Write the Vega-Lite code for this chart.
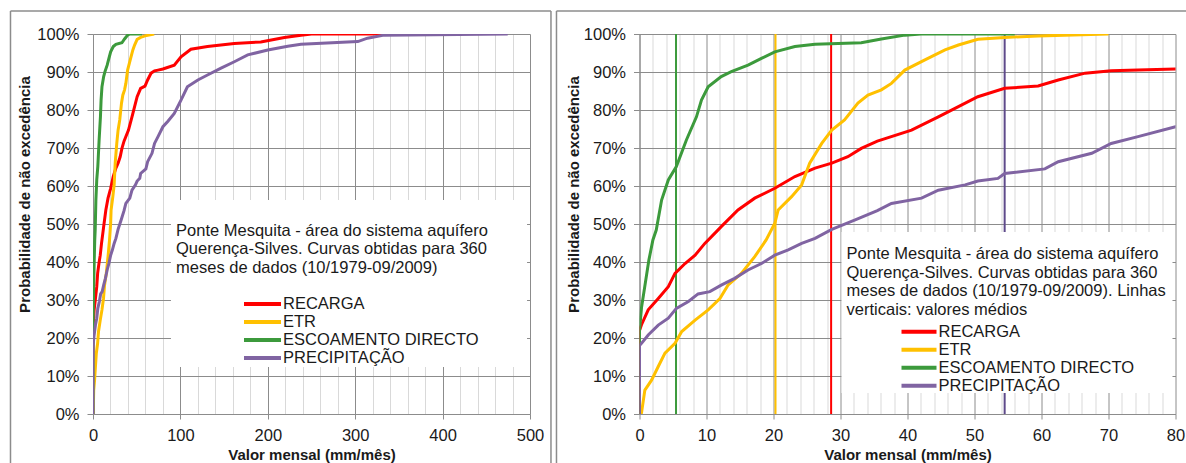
{
  "$schema": "https://vega.github.io/schema/vega-lite/v6.json",
  "background": "white",
  "padding": {"left": 9, "top": 10, "right": 0, "bottom": 0},
  "spacing": 3.5,
  "config": {
    "view": {"stroke": null},
    "font": "Liberation Sans",
    "axis": {
      "labelFont": "Liberation Sans", "labelFontSize": 16.5, "labelColor": "#1a1a1a",
      "titleFont": "Liberation Sans", "titleFontSize": 15, "titleFontWeight": "bold", "titleColor": "#1a1a1a",
      "domainColor": "#8c8c8c", "tickColor": "#8c8c8c", "gridColor": "#8c8c8c", "gridWidth": 1, "gridOpacity": 1,
      "labelOverlap": false, "labelBound": false, "labelFlush": false, "tickCount": 100
    },
    "axisX": {"tickSize": 5, "labelPadding": 8, "titlePadding": 4},
    "axisY": {"tickSize": 6, "labelPadding": 8}
  },
  "datasets": {
    "curves": [
      {"serie": "RECARGA", "valor": 0, "prob": 0},
      {"serie": "RECARGA", "valor": 0, "prob": 0.22},
      {"serie": "RECARGA", "valor": 0.3, "prob": 0.235},
      {"serie": "RECARGA", "valor": 1.3, "prob": 0.274},
      {"serie": "RECARGA", "valor": 2.8, "prob": 0.304},
      {"serie": "RECARGA", "valor": 4.3, "prob": 0.335},
      {"serie": "RECARGA", "valor": 5.3, "prob": 0.37},
      {"serie": "RECARGA", "valor": 6.8, "prob": 0.396},
      {"serie": "RECARGA", "valor": 8.3, "prob": 0.418},
      {"serie": "RECARGA", "valor": 9.75, "prob": 0.449},
      {"serie": "RECARGA", "valor": 11.7, "prob": 0.484},
      {"serie": "RECARGA", "valor": 12.2, "prob": 0.493},
      {"serie": "RECARGA", "valor": 14.7, "prob": 0.537},
      {"serie": "RECARGA", "valor": 17.2, "prob": 0.568},
      {"serie": "RECARGA", "valor": 20.2, "prob": 0.594},
      {"serie": "RECARGA", "valor": 23.2, "prob": 0.625},
      {"serie": "RECARGA", "valor": 26.2, "prob": 0.647},
      {"serie": "RECARGA", "valor": 28.7, "prob": 0.66},
      {"serie": "RECARGA", "valor": 31.1, "prob": 0.677},
      {"serie": "RECARGA", "valor": 33.1, "prob": 0.699},
      {"serie": "RECARGA", "valor": 35.5, "prob": 0.718},
      {"serie": "RECARGA", "valor": 40.6, "prob": 0.747},
      {"serie": "RECARGA", "valor": 44.6, "prob": 0.782},
      {"serie": "RECARGA", "valor": 47.6, "prob": 0.809},
      {"serie": "RECARGA", "valor": 50.5, "prob": 0.835},
      {"serie": "RECARGA", "valor": 54.5, "prob": 0.857},
      {"serie": "RECARGA", "valor": 59.5, "prob": 0.863},
      {"serie": "RECARGA", "valor": 62.5, "prob": 0.879},
      {"serie": "RECARGA", "valor": 66.5, "prob": 0.897},
      {"serie": "RECARGA", "valor": 70.4, "prob": 0.903},
      {"serie": "RECARGA", "valor": 74.4, "prob": 0.905},
      {"serie": "RECARGA", "valor": 80, "prob": 0.908},
      {"serie": "RECARGA", "valor": 93, "prob": 0.918},
      {"serie": "RECARGA", "valor": 100.7, "prob": 0.94},
      {"serie": "RECARGA", "valor": 112, "prob": 0.96},
      {"serie": "RECARGA", "valor": 131, "prob": 0.967},
      {"serie": "RECARGA", "valor": 161.7, "prob": 0.975},
      {"serie": "RECARGA", "valor": 192, "prob": 0.979},
      {"serie": "RECARGA", "valor": 219, "prob": 0.991},
      {"serie": "RECARGA", "valor": 238, "prob": 0.997},
      {"serie": "RECARGA", "valor": 250, "prob": 1.0},
      {"serie": "RECARGA", "valor": 340, "prob": 1.0},
      {"serie": "ETR", "valor": 0, "prob": 0},
      {"serie": "ETR", "valor": 0.3, "prob": 0.003},
      {"serie": "ETR", "valor": 0.8, "prob": 0.063},
      {"serie": "ETR", "valor": 1.8, "prob": 0.089},
      {"serie": "ETR", "valor": 2.8, "prob": 0.125},
      {"serie": "ETR", "valor": 3.8, "prob": 0.16},
      {"serie": "ETR", "valor": 5.3, "prob": 0.186},
      {"serie": "ETR", "valor": 6.3, "prob": 0.217},
      {"serie": "ETR", "valor": 8.3, "prob": 0.247},
      {"serie": "ETR", "valor": 10.25, "prob": 0.274},
      {"serie": "ETR", "valor": 12.0, "prob": 0.304},
      {"serie": "ETR", "valor": 13.2, "prob": 0.339},
      {"serie": "ETR", "valor": 15.2, "prob": 0.37},
      {"serie": "ETR", "valor": 17.2, "prob": 0.414},
      {"serie": "ETR", "valor": 18.9, "prob": 0.458},
      {"serie": "ETR", "valor": 20.2, "prob": 0.502},
      {"serie": "ETR", "valor": 20.7, "prob": 0.537},
      {"serie": "ETR", "valor": 22.7, "prob": 0.572},
      {"serie": "ETR", "valor": 24.2, "prob": 0.603},
      {"serie": "ETR", "valor": 25.4, "prob": 0.66},
      {"serie": "ETR", "valor": 27.2, "prob": 0.712},
      {"serie": "ETR", "valor": 28.7, "prob": 0.747},
      {"serie": "ETR", "valor": 30.6, "prob": 0.774},
      {"serie": "ETR", "valor": 32.6, "prob": 0.818},
      {"serie": "ETR", "valor": 34.1, "prob": 0.839},
      {"serie": "ETR", "valor": 36.1, "prob": 0.853},
      {"serie": "ETR", "valor": 37.6, "prob": 0.87},
      {"serie": "ETR", "valor": 39.6, "prob": 0.905},
      {"serie": "ETR", "valor": 42.6, "prob": 0.932},
      {"serie": "ETR", "valor": 45.6, "prob": 0.958},
      {"serie": "ETR", "valor": 47.6, "prob": 0.971},
      {"serie": "ETR", "valor": 50.5, "prob": 0.986},
      {"serie": "ETR", "valor": 54.5, "prob": 0.991},
      {"serie": "ETR", "valor": 59.5, "prob": 0.995},
      {"serie": "ETR", "valor": 70, "prob": 1.0},
      {"serie": "ESCOAMENTO DIRECTO", "valor": 0, "prob": 0},
      {"serie": "ESCOAMENTO DIRECTO", "valor": 0, "prob": 0.22},
      {"serie": "ESCOAMENTO DIRECTO", "valor": 0.3, "prob": 0.28},
      {"serie": "ESCOAMENTO DIRECTO", "valor": 1.4, "prob": 0.405},
      {"serie": "ESCOAMENTO DIRECTO", "valor": 2.0, "prob": 0.458},
      {"serie": "ESCOAMENTO DIRECTO", "valor": 2.5, "prob": 0.484},
      {"serie": "ESCOAMENTO DIRECTO", "valor": 3.3, "prob": 0.563},
      {"serie": "ESCOAMENTO DIRECTO", "valor": 4.3, "prob": 0.616},
      {"serie": "ESCOAMENTO DIRECTO", "valor": 5.5, "prob": 0.651},
      {"serie": "ESCOAMENTO DIRECTO", "valor": 7.0, "prob": 0.721},
      {"serie": "ESCOAMENTO DIRECTO", "valor": 8.5, "prob": 0.782},
      {"serie": "ESCOAMENTO DIRECTO", "valor": 9.25, "prob": 0.826},
      {"serie": "ESCOAMENTO DIRECTO", "valor": 10.25, "prob": 0.861},
      {"serie": "ESCOAMENTO DIRECTO", "valor": 12.2, "prob": 0.888},
      {"serie": "ESCOAMENTO DIRECTO", "valor": 13.7, "prob": 0.901},
      {"serie": "ESCOAMENTO DIRECTO", "valor": 16.2, "prob": 0.918},
      {"serie": "ESCOAMENTO DIRECTO", "valor": 18.2, "prob": 0.936},
      {"serie": "ESCOAMENTO DIRECTO", "valor": 20.2, "prob": 0.953},
      {"serie": "ESCOAMENTO DIRECTO", "valor": 23.2, "prob": 0.967},
      {"serie": "ESCOAMENTO DIRECTO", "valor": 26.2, "prob": 0.973},
      {"serie": "ESCOAMENTO DIRECTO", "valor": 33.1, "prob": 0.977},
      {"serie": "ESCOAMENTO DIRECTO", "valor": 36.1, "prob": 0.987},
      {"serie": "ESCOAMENTO DIRECTO", "valor": 39.6, "prob": 0.997},
      {"serie": "ESCOAMENTO DIRECTO", "valor": 42, "prob": 1.0},
      {"serie": "ESCOAMENTO DIRECTO", "valor": 56, "prob": 1.0},
      {"serie": "PRECIPITAÇÃO", "valor": 0, "prob": 0},
      {"serie": "PRECIPITAÇÃO", "valor": 0, "prob": 0.18},
      {"serie": "PRECIPITAÇÃO", "valor": 0.3, "prob": 0.186},
      {"serie": "PRECIPITAÇÃO", "valor": 1.3, "prob": 0.208},
      {"serie": "PRECIPITAÇÃO", "valor": 2.8, "prob": 0.234},
      {"serie": "PRECIPITAÇÃO", "valor": 4.3, "prob": 0.252},
      {"serie": "PRECIPITAÇÃO", "valor": 5.5, "prob": 0.278},
      {"serie": "PRECIPITAÇÃO", "valor": 7.3, "prob": 0.296},
      {"serie": "PRECIPITAÇÃO", "valor": 8.75, "prob": 0.316},
      {"serie": "PRECIPITAÇÃO", "valor": 10.5, "prob": 0.322},
      {"serie": "PRECIPITAÇÃO", "valor": 12.2, "prob": 0.339},
      {"serie": "PRECIPITAÇÃO", "valor": 14.2, "prob": 0.357},
      {"serie": "PRECIPITAÇÃO", "valor": 16.2, "prob": 0.379},
      {"serie": "PRECIPITAÇÃO", "valor": 18.2, "prob": 0.396},
      {"serie": "PRECIPITAÇÃO", "valor": 20.2, "prob": 0.418},
      {"serie": "PRECIPITAÇÃO", "valor": 22.2, "prob": 0.432},
      {"serie": "PRECIPITAÇÃO", "valor": 24.2, "prob": 0.449},
      {"serie": "PRECIPITAÇÃO", "valor": 26.2, "prob": 0.462},
      {"serie": "PRECIPITAÇÃO", "valor": 28.7, "prob": 0.486},
      {"serie": "PRECIPITAÇÃO", "valor": 32.1, "prob": 0.51},
      {"serie": "PRECIPITAÇÃO", "valor": 35.5, "prob": 0.535},
      {"serie": "PRECIPITAÇÃO", "valor": 37.6, "prob": 0.554},
      {"serie": "PRECIPITAÇÃO", "valor": 42.1, "prob": 0.568},
      {"serie": "PRECIPITAÇÃO", "valor": 44.6, "prob": 0.589},
      {"serie": "PRECIPITAÇÃO", "valor": 48.6, "prob": 0.603},
      {"serie": "PRECIPITAÇÃO", "valor": 50.5, "prob": 0.613},
      {"serie": "PRECIPITAÇÃO", "valor": 53.5, "prob": 0.62},
      {"serie": "PRECIPITAÇÃO", "valor": 54.5, "prob": 0.633},
      {"serie": "PRECIPITAÇÃO", "valor": 60.5, "prob": 0.645},
      {"serie": "PRECIPITAÇÃO", "valor": 62.5, "prob": 0.664},
      {"serie": "PRECIPITAÇÃO", "valor": 67.5, "prob": 0.686},
      {"serie": "PRECIPITAÇÃO", "valor": 70.4, "prob": 0.712},
      {"serie": "PRECIPITAÇÃO", "valor": 74.4, "prob": 0.73},
      {"serie": "PRECIPITAÇÃO", "valor": 80, "prob": 0.756},
      {"serie": "PRECIPITAÇÃO", "valor": 85.5, "prob": 0.77},
      {"serie": "PRECIPITAÇÃO", "valor": 93, "prob": 0.791},
      {"serie": "PRECIPITAÇÃO", "valor": 100.7, "prob": 0.826},
      {"serie": "PRECIPITAÇÃO", "valor": 108, "prob": 0.861},
      {"serie": "PRECIPITAÇÃO", "valor": 120, "prob": 0.879},
      {"serie": "PRECIPITAÇÃO", "valor": 131, "prob": 0.892},
      {"serie": "PRECIPITAÇÃO", "valor": 146.5, "prob": 0.91},
      {"serie": "PRECIPITAÇÃO", "valor": 161.7, "prob": 0.927},
      {"serie": "PRECIPITAÇÃO", "valor": 177, "prob": 0.945},
      {"serie": "PRECIPITAÇÃO", "valor": 200, "prob": 0.958},
      {"serie": "PRECIPITAÇÃO", "valor": 222.8, "prob": 0.968},
      {"serie": "PRECIPITAÇÃO", "valor": 238, "prob": 0.973},
      {"serie": "PRECIPITAÇÃO", "valor": 303, "prob": 0.98},
      {"serie": "PRECIPITAÇÃO", "valor": 314, "prob": 0.989},
      {"serie": "PRECIPITAÇÃO", "valor": 333, "prob": 0.997},
      {"serie": "PRECIPITAÇÃO", "valor": 474.5, "prob": 1.0}
    ],
    "means": [
      {"serie": "RECARGA", "media": 28.6},
      {"serie": "ETR", "media": 20.3},
      {"serie": "ESCOAMENTO DIRECTO", "media": 5.45},
      {"serie": "PRECIPITAÇÃO", "media": 54.5}
    ]
  },
  "resolve": {"scale": {"color": "independent"}, "legend": {"color": "independent"}},
  "hconcat": [
    {
      "width": 437,
      "height": 380,
      "layer": [
        {
          "data": {"name": "curves"},
          "mark": {"type": "line", "strokeWidth": 3, "clip": true},
          "encoding": {
            "x": {"field": "valor", "type": "quantitative", "scale": {"domain": [0, 500], "nice": false},
              "axis": {
                "values": [0,20,40,60,80,100,120,140,160,180,200,220,240,260,280,300,320,340,360,380,400,420,440,460,480,500],
                "tickCount": 100,
                "labelExpr": "datum.value % 100 === 0 ? datum.label : ''",
                "labelOverlap": false,
                "gridColor": {"condition": {"test": "datum.value % 100 === 0", "value": "#8c8c8c"}, "value": "#d9d9d9"},
                "tickOpacity": {"condition": {"test": "datum.value % 100 === 0", "value": 1}, "value": 0},
                "grid": true,
                "title": "Valor mensal (mm/mês)"
              }},
            "y": {"field": "prob", "type": "quantitative", "scale": {"domain": [0, 1], "nice": false},
              "axis": {
                "values": [0,0.1,0.2,0.3,0.4,0.5,0.6,0.7,0.8,0.9,1],
                "tickCount": 100,
                "labelOverlap": false,
                "format": ".0%", "grid": true,
                "title": "Probabilidade de não excedência",
                "titleX": -61, "titleY": 160
              }},
            "order": [{"field": "prob", "type": "quantitative"}, {"field": "valor", "type": "quantitative"}],
            "color": {"field": "serie", "type": "nominal",
              "scale": {"domain": ["RECARGA", "ETR", "ESCOAMENTO DIRECTO", "PRECIPITAÇÃO"], "range": ["#ff0000", "#ffc000", "#3c9a3c", "#8064a2"]},
              "legend": {"orient": "none", "legendX": 149, "legendY": 261, "title": null, "symbolType": "stroke", "symbolSize": 1369, "symbolStrokeWidth": 4, "clipHeight": 18, "rowPadding": 0, "labelOffset": 0, "padding": 0, "labelLimit": 400, "labelFontSize": 16.5, "labelFont": "Liberation Sans", "labelColor": "#1a1a1a"}}
          }
        },
        {
          "data": {"values": [{}]},
          "mark": {"type": "rule", "clip": false, "color": "#8c8c8c", "strokeWidth": 1.5},
          "encoding": {"x": {"datum": -94.4}, "y": {"datum": 1.0605}, "y2": {"datum": -0.129}}
        },
        {
          "data": {"values": [{}]},
          "mark": {"type": "rule", "clip": false, "color": "#8c8c8c", "strokeWidth": 1.5},
          "encoding": {"x": {"datum": -94.4}, "x2": {"datum": 524}, "y": {"datum": 1.0605}}
        },
        {
          "data": {"values": [{}]},
          "mark": {"type": "rule", "clip": false, "color": "#8c8c8c", "strokeWidth": 1.5},
          "encoding": {"x": {"datum": 524}, "y": {"datum": 1.0605}, "y2": {"datum": -0.129}}
        },
        {
          "data": {"values": [{}]},
          "mark": {"type": "rect", "fill": "white", "clip": false},
          "encoding": {"x": {"datum": 89.2}, "x2": {"datum": 496.6}, "y": {"datum": 0.563}, "y2": {"datum": 0.124}}
        },
        {
          "data": {"values": [{}]},
          "mark": {"type": "text", "align": "left", "baseline": "top", "fontSize": 16.5, "lineHeight": 18.5, "font": "Liberation Sans", "color": "#1a1a1a",
            "text": ["Ponte Mesquita - área do sistema aquífero", "Querença-Silves. Curvas obtidas para 360", "meses de dados (10/1979-09/2009)"]},
          "encoding": {"x": {"datum": 95}, "y": {"datum": 0.503}}
        }
      ]
    },
    {
      "width": 536,
      "height": 380,
      "layer": [
        {
          "data": {"values": [{}]},
          "mark": {"type": "rule", "clip": false, "color": "#8c8c8c", "strokeWidth": 1.5},
          "encoding": {"x": {"datum": -12.39}, "y": {"datum": 1.0605}, "y2": {"datum": -0.129}}
        },
        {
          "data": {"values": [{}]},
          "mark": {"type": "rule", "clip": false, "color": "#8c8c8c", "strokeWidth": 1.5},
          "encoding": {"x": {"datum": -12.39}, "x2": {"datum": 81.7}, "y": {"datum": 1.0605}}
        },
        {
          "data": {"name": "means"},
          "mark": {"type": "rule", "strokeWidth": 2},
          "encoding": {
            "x": {"field": "media", "type": "quantitative"},
            "stroke": {"field": "serie", "type": "nominal", "legend": null,
              "scale": {"domain": ["RECARGA", "ETR", "ESCOAMENTO DIRECTO", "PRECIPITAÇÃO"], "range": ["#ff0000", "#ffc000", "#3c9a3c", "#5e4a8a"]}}
          }
        },
        {
          "data": {"values": [{}]},
          "mark": {"type": "rect", "fill": "white", "clip": false},
          "encoding": {"x": {"datum": 30.15}, "x2": {"datum": 79.55}, "y": {"datum": 0.479}, "y2": {"datum": 0.055}}
        },
        {
          "data": {"values": [{}]},
          "mark": {"type": "text", "align": "left", "baseline": "top", "fontSize": 16.5, "lineHeight": 18.5, "font": "Liberation Sans", "color": "#1a1a1a",
            "text": ["Ponte Mesquita - área do sistema aquífero", "Querença-Silves. Curvas obtidas para 360", "meses de dados (10/1979-09/2009). Linhas", "verticais: valores médios"]},
          "encoding": {"x": {"datum": 30.9}, "y": {"datum": 0.442}}
        },
        {
          "data": {"name": "curves"},
          "mark": {"type": "line", "strokeWidth": 3, "clip": true},
          "encoding": {
            "x": {"field": "valor", "type": "quantitative", "scale": {"domain": [0, 80], "nice": false},
              "axis": {
                "values": [0,2,4,6,8,10,12,14,16,18,20,22,24,26,28,30,32,34,36,38,40,42,44,46,48,50,52,54,56,58,60,62,64,66,68,70,72,74,76,78,80],
                "tickCount": 100,
                "labelExpr": "datum.value % 10 === 0 ? datum.label : ''",
                "labelOverlap": false,
                "gridColor": {"condition": {"test": "datum.value % 10 === 0", "value": "#8c8c8c"}, "value": "#d9d9d9"},
                "tickOpacity": {"condition": {"test": "datum.value % 10 === 0", "value": 1}, "value": 0},
                "grid": true,
                "title": "Valor mensal (mm/mês)"
              }},
            "y": {"field": "prob", "type": "quantitative", "scale": {"domain": [0, 1], "nice": false},
              "axis": {
                "values": [0,0.1,0.2,0.3,0.4,0.5,0.6,0.7,0.8,0.9,1],
                "tickCount": 100,
                "labelOverlap": false,
                "format": ".0%", "grid": true,
                "title": "Probabilidade de não excedência",
                "titleX": -58, "titleY": 160
              }},
            "order": [{"field": "prob", "type": "quantitative"}, {"field": "valor", "type": "quantitative"}],
            "color": {"field": "serie", "type": "nominal",
              "scale": {"domain": ["RECARGA", "ETR", "ESCOAMENTO DIRECTO", "PRECIPITAÇÃO"], "range": ["#ff0000", "#ffc000", "#3c9a3c", "#8064a2"]},
              "legend": {"orient": "none", "legendX": 260, "legendY": 289, "title": null, "symbolType": "stroke", "symbolSize": 1225, "symbolStrokeWidth": 4, "clipHeight": 17.5, "rowPadding": 0, "labelOffset": 0, "padding": 0, "labelLimit": 400, "labelFontSize": 16.5, "labelFont": "Liberation Sans", "labelColor": "#1a1a1a"}}
          }
        }
      ]
    }
  ]
}
